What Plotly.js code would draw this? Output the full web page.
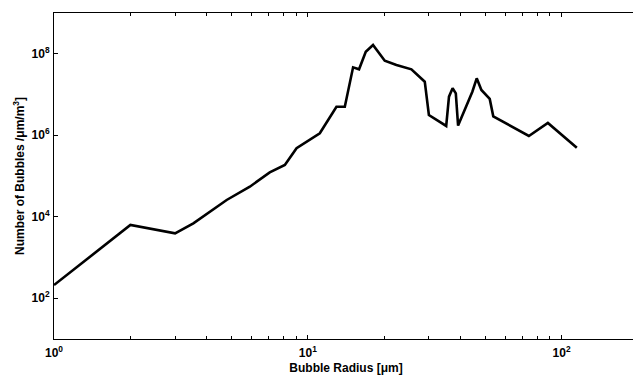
<!DOCTYPE html>
<html>
<head>
<meta charset="utf-8">
<script src="https://cdn.plot.ly/plotly-3.0.1.min.js"></script>
<style>
html, body { margin: 0; padding: 0; overflow: hidden; background: #fff; }
#chart { width: 640px; height: 379px; }
</style>
</head>
<body>
<div id="chart"></div>
<script>
// Bubble radius [µm]
const radius = [1, 2, 3, 3.54, 4.79, 5.91, 7.08, 8.12, 9.03, 11.15, 12.97, 13.99, 15.08, 15.92, 16.92, 18.07, 20.1, 22.35, 25.6, 28.9, 30.0, 35.1, 36.0, 37.2, 38.3, 39.1, 44.5, 46.3, 48.3, 52.1, 53.8, 74.3, 88.3, 114.8];
// Number of bubbles [µm/m^3]
const bubbles = [211, 6270, 3930, 6900, 25800, 54600, 123000, 186000, 479000, 1.12e6, 5.02e6, 5.02e6, 4.64e7, 4.15e7, 1.12e8, 1.64e8, 6.75e7, 5.3e7, 4.15e7, 2.06e7, 3.14e6, 1.69e6, 8.83e6, 1.42e7, 1.07e7, 1.73e6, 1.17e7, 2.5e7, 1.29e7, 7.76e6, 2.92e6, 9.6e5, 2.0e6, 4.92e5];

const xTickVals = [1, 10, 100];
const xTickText = ['10<sup>0</sup>', '10<sup>1</sup>', '10<sup>2</sup>'];
const yTickVals = [1e2, 1e4, 1e6, 1e8];
const yTickText = ['10<sup>2</sup>', '10<sup>4</sup>', '10<sup>6</sup>', '10<sup>8</sup>'];

const xMinor = [];
for (const dec of [1, 10, 100]) {
  for (let k = 2; k <= 9; k++) { if (dec * k <= 200) xMinor.push(dec * k); }
}

const font = { family: 'Liberation Sans, Arial, sans-serif', size: 12, color: '#000', weight: 'bold' };

const trace = {
  x: radius, y: bubbles, type: 'scatter', mode: 'lines',
  line: { color: '#000', width: 2.6 },
  hoverinfo: 'x+y'
};

const layout = {
  width: 640, height: 379,
  margin: { l: 54, r: 2, t: 13, b: 40 },
  paper_bgcolor: '#fff', plot_bgcolor: '#fff',
  font: font,
  showlegend: false,
  xaxis: {
    type: 'log', range: [0, Math.log10(200)],
    showgrid: false, zeroline: false,
    showline: true, linecolor: '#000', linewidth: 1, mirror: 'ticks',
    ticks: 'inside', ticklen: 4, tickcolor: '#000', tickwidth: 1,
    tickmode: 'array', tickvals: xTickVals, ticktext: xTickText,
    tickfont: font, ticklabelstandoff: 3,
    minor: { tickmode: 'array', tickvals: xMinor, ticks: 'inside', ticklen: 3, tickcolor: '#000', showgrid: false },
    title: { text: 'Bubble Radius [μm]', font: font, standoff: 4 }
  },
  yaxis: {
    type: 'log', range: [1, 9],
    showgrid: false, zeroline: false,
    showline: true, linecolor: '#000', linewidth: 1, mirror: 'ticks',
    ticks: 'inside', ticklen: 4, tickcolor: '#000', tickwidth: 1,
    tickmode: 'array', tickvals: yTickVals, ticktext: yTickText,
    tickfont: font, ticklabelstandoff: 1,
    title: { text: 'Number of Bubbles /μm/m<sup>3</sup>]', font: font, standoff: 4 }
  }
};

Plotly.newPlot('chart', [trace], layout, { displayModeBar: false, staticPlot: true });
</script>
</body>
</html>
